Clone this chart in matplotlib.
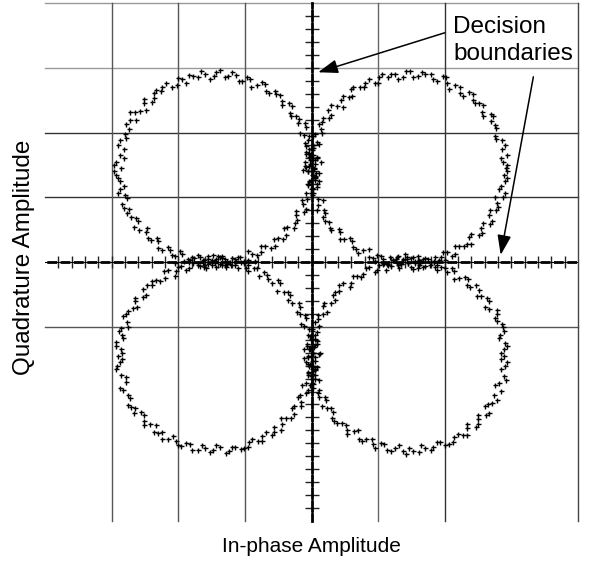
import numpy as np
import matplotlib
matplotlib.use("Agg")
import matplotlib.pyplot as plt
from matplotlib.ticker import FixedLocator

plt.rcParams['font.family'] = ['Liberation Sans', 'DejaVu Sans']
plt.rcParams['lines.scale_dashes'] = False

# Received symbol samples (in-phase, quadrature), one trace per quadrant
ur_x = [2.92, 2.87, 2.94, 2.86, 2.86, 2.76, 2.77, 2.69, 2.69, 2.56, 2.52, 2.43, 2.37, 2.23, 2.16, 2.03,
        1.97, 1.82, 1.71, 1.60, 1.48, 1.38, 1.25, 1.15, 1.02, 0.95, 0.81, 0.73, 0.59, 0.56, 0.44, 0.39,
        0.25, 0.26, 0.16, 0.15, 0.06, 0.09, 0.03, -0.04, 0.03, -0.02, 0.05, 0.00, -0.06, 0.03, -0.01, 0.08,
        0.03, 0.01, 0.10, 0.10, 0.19, 0.18, 0.27, 0.30, 0.43, 0.49, 0.61, 0.67, 0.78, 0.87, 0.99, 1.07,
        1.14, 1.23, 1.29, 1.38, 1.45, 1.50, 1.55, 1.63, 1.70, 1.79, 1.85, 1.95, 2.03, 2.15, 2.21, 2.33,
        2.37, 2.51, 2.55, 2.68, 2.67, 2.77, 2.78, 2.87, 2.82, 2.91, 2.89,
        0.08, -0.10, 0.12, -0.05, 0.06, 0.15, -0.08, 0.04, 1.30, 1.60, 1.75, 1.20, 1.52, 1.88, 1.40, 0.95,
        2.94, 2.84, 2.91, 2.77, 2.76, 2.73, 2.57, 2.58, 2.45, 2.42, 2.27, 2.23, 2.07, 2.02, 1.89, 1.79,
        1.66, 1.52, 1.42, 1.30, 1.19, 1.06, 1.00, 0.87, 0.79, 0.63, 0.61, 0.48, 0.47, 0.29, 0.29, 0.17,
        0.12, 0.16, 0.03, 0.11, 0.01, -0.04, 0.08, -0.04, 0.05, -0.04, 0.09, 0.02, 0.17, 0.08, 0.21, 0.20,
        0.28, 0.41, 0.43, 0.58, 0.63, 0.70, 0.87, 0.92, 1.04, 1.09, 1.28, 1.35, 1.43, 1.61, 1.67, 1.84,
        1.91, 1.98, 2.11, 2.15, 2.29, 2.40, 2.39, 2.56, 2.58, 2.71, 2.68, 2.80, 2.75, 2.91, 2.84, 2.93, 2.94]
ur_y = [1.45, 1.55, 1.66, 1.75, 1.88, 1.95, 2.07, 2.17, 2.29, 2.32, 2.45, 2.50, 2.62, 2.61, 2.73, 2.76,
        2.87, 2.82, 2.90, 2.88, 2.95, 2.86, 2.90, 2.85, 2.86, 2.76, 2.76, 2.70, 2.67, 2.55, 2.50, 2.41,
        2.35, 2.22, 2.16, 2.06, 1.98, 1.86, 1.80, 1.74, 1.65, 1.58, 1.52, 1.45, 1.40, 1.35, 1.27, 1.21,
        1.12, 1.04, 0.98, 0.88, 0.81, 0.69, 0.62, 0.49, 0.46, 0.35, 0.33, 0.20, 0.19, 0.08, 0.11, 0.04,
        -0.03, 0.03, -0.02, 0.05, -0.01, -0.07, 0.02, -0.01, 0.06, -0.00, 0.07, 0.07, 0.15, 0.13, 0.24, 0.28,
        0.39, 0.42, 0.52, 0.59, 0.72, 0.81, 0.91, 1.01, 1.13, 1.25, 1.35,
        1.62, 1.48, 1.38, 1.19, 1.30, 1.55, 1.70, 1.44, 0.10, -0.09, 0.04, -0.06, 0.08, -0.05, 0.12, 0.02,
        1.50, 1.60, 1.81, 1.90, 2.12, 2.25, 2.26, 2.43, 2.45, 2.60, 2.57, 2.71, 2.67, 2.85, 2.80, 2.90,
        2.93, 2.85, 2.95, 2.83, 2.90, 2.91, 2.76, 2.82, 2.70, 2.71, 2.56, 2.57, 2.40, 2.42, 2.27, 2.22,
        2.13, 2.00, 1.94, 1.83, 1.76, 1.69, 1.60, 1.48, 1.33, 1.24, 1.16, 1.07, 0.96, 0.81, 0.76, 0.64,
        0.53, 0.51, 0.35, 0.37, 0.23, 0.14, 0.20, 0.06, 0.10, -0.01, 0.07, -0.03, 0.08, -0.05, 0.05, 0.01,
        0.03, 0.15, 0.10, 0.25, 0.25, 0.28, 0.44, 0.45, 0.60, 0.63, 0.80, 0.85, 1.00, 1.06, 1.18, 1.29, 1.40]

ul_x = [-2.86, -2.93, -2.88, -2.81, -2.88, -2.80, -2.74, -2.72, -2.72, -2.58, -2.52, -2.40, -2.36, -2.26, -2.18, -2.02,
        -1.95, -1.84, -1.70, -1.60, -1.47, -1.37, -1.25, -1.14, -1.04, -0.92, -0.82, -0.70, -0.64, -0.53, -0.45, -0.34,
        -0.32, -0.23, -0.20, -0.09, -0.12, -0.05, -0.08, 0.00, -0.02, 0.06, -0.02, 0.04, -0.05, 0.01, 0.05, -0.05,
        -0.01, -0.09, -0.07, -0.13, -0.12, -0.23, -0.25, -0.37, -0.39, -0.51, -0.55, -0.70, -0.76, -0.89, -0.96, -1.08,
        -1.14, -1.21, -1.30, -1.37, -1.45, -1.50, -1.55, -1.63, -1.71, -1.77, -1.86, -1.94, -2.05, -2.13, -2.25, -2.30,
        -2.41, -2.48, -2.59, -2.61, -2.71, -2.74, -2.84, -2.80, -2.87, -2.87, -2.93,
        -0.10, 0.07, -0.04, 0.11, -0.13, 0.02, -1.55, -1.28, -1.70, -1.15, -1.62, -1.40, -2.05, -0.85,
        -2.96, -2.82, -2.90, -2.78, -2.79, -2.63, -2.65, -2.48, -2.52, -2.36, -2.33, -2.24, -2.09, -2.01, -1.88, -1.78,
        -1.66, -1.52, -1.43, -1.30, -1.19, -1.09, -0.97, -0.91, -0.74, -0.68, -0.55, -0.47, -0.44, -0.30, -0.31, -0.19,
        -0.10, -0.18, -0.04, -0.10, 0.02, -0.08, 0.02, -0.08, 0.05, -0.04, 0.01, -0.01, -0.14, -0.09, -0.23, -0.22,
        -0.26, -0.42, -0.43, -0.56, -0.61, -0.76, -0.82, -0.96, -1.01, -1.11, -1.27, -1.35, -1.43, -1.61, -1.67, -1.83,
        -1.92, -1.97, -2.10, -2.16, -2.31, -2.32, -2.46, -2.47, -2.66, -2.64, -2.77, -2.81, -2.77, -2.90, -2.82, -2.91, -2.96]
ul_y = [1.45, 1.55, 1.65, 1.74, 1.89, 1.97, 2.05, 2.19, 2.31, 2.33, 2.45, 2.47, 2.61, 2.64, 2.76, 2.74,
        2.82, 2.89, 2.85, 2.91, 2.88, 2.96, 2.88, 2.89, 2.80, 2.83, 2.74, 2.75, 2.61, 2.59, 2.49, 2.45,
        2.30, 2.25, 2.14, 2.09, 1.96, 1.88, 1.79, 1.73, 1.65, 1.58, 1.52, 1.45, 1.40, 1.35, 1.27, 1.20,
        1.12, 1.06, 0.97, 0.89, 0.77, 0.72, 0.61, 0.54, 0.42, 0.37, 0.25, 0.25, 0.15, 0.12, 0.03, 0.07,
        0.01, -0.05, 0.04, -0.03, 0.01, -0.05, 0.04, 0.00, -0.02, 0.06, 0.04, 0.12, 0.10, 0.18, 0.18, 0.32,
        0.34, 0.46, 0.49, 0.64, 0.69, 0.82, 0.89, 1.04, 1.12, 1.25, 1.35,
        1.55, 1.38, 1.62, 1.25, 1.42, 1.80, 0.09, -0.08, 0.11, 0.05, -0.07, 0.10, -0.02, 0.02,
        1.50, 1.60, 1.81, 1.91, 2.13, 2.19, 2.32, 2.35, 2.52, 2.54, 2.66, 2.71, 2.70, 2.84, 2.77, 2.88,
        2.95, 2.83, 2.94, 2.85, 2.93, 2.79, 2.85, 2.71, 2.78, 2.64, 2.64, 2.58, 2.42, 2.41, 2.25, 2.21,
        2.14, 1.99, 1.94, 1.84, 1.76, 1.67, 1.61, 1.47, 1.32, 1.25, 1.14, 1.06, 0.95, 0.82, 0.78, 0.65,
        0.52, 0.53, 0.36, 0.35, 0.21, 0.25, 0.11, 0.17, 0.01, 0.07, -0.03, -0.04, 0.05, -0.04, 0.08, 0.03,
        0.01, 0.17, 0.11, 0.23, 0.22, 0.37, 0.37, 0.53, 0.54, 0.68, 0.75, 0.84, 0.99, 1.06, 1.18, 1.30, 1.40]

ll_x = [-2.91, -2.87, -2.94, -2.86, -2.79, -2.83, -2.75, -2.76, -2.65, -2.56, -2.52, -2.43, -2.37, -2.24, -2.16, -2.03,
        -1.96, -1.82, -1.71, -1.60, -1.48, -1.38, -1.24, -1.15, -1.01, -0.94, -0.81, -0.74, -0.60, -0.56, -0.44, -0.38,
        -0.27, -0.26, -0.16, -0.17, -0.06, -0.08, 0.01, -0.06, 0.01, -0.06, 0.06, -0.01, 0.03, -0.04, 0.00, 0.05,
        -0.06, -0.04, -0.11, -0.08, -0.17, -0.18, -0.30, -0.33, -0.42, -0.47, -0.60, -0.67, -0.79, -0.87, -0.98, -1.06,
        -1.15, -1.22, -1.30, -1.37, -1.45, -1.50, -1.55, -1.63, -1.70, -1.78, -1.84, -1.96, -2.03, -2.15, -2.20, -2.34,
        -2.40, -2.53, -2.53, -2.65, -2.68, -2.79, -2.77, -2.86, -2.85, -2.94, -2.86,
        0.09, -0.11, 0.05, -0.07, 0.13, -0.03, -1.35, -1.58, -1.20, -1.80, -0.95, -1.48,
        -2.84, -2.92, -2.78, -2.88, -2.72, -2.71, -2.66, -2.51, -2.51, -2.34, -2.31, -2.25, -2.08, -2.01, -1.89, -1.79,
        -1.64, -1.53, -1.43, -1.29, -1.20, -1.06, -0.96, -0.90, -0.75, -0.69, -0.57, -0.46, -0.46, -0.31, -0.30, -0.16,
        -0.21, -0.09, -0.15, 0.00, -0.06, 0.02, 0.03, -0.05, 0.04, -0.07, -0.01, 0.01, -0.16, -0.10, -0.22, -0.19,
        -0.35, -0.35, -0.52, -0.50, -0.66, -0.71, -0.82, -0.95, -1.01, -1.11, -1.27, -1.34, -1.43, -1.61, -1.67, -1.84,
        -1.88, -2.01, -2.05, -2.21, -2.27, -2.39, -2.47, -2.49, -2.65, -2.62, -2.75, -2.83, -2.76, -2.89, -2.83, -2.94, -2.84]
ll_y = [-1.45, -1.55, -1.66, -1.75, -1.86, -1.98, -2.06, -2.21, -2.26, -2.32, -2.45, -2.50, -2.62, -2.63, -2.73, -2.76,
        -2.84, -2.81, -2.90, -2.87, -2.90, -2.85, -2.92, -2.86, -2.88, -2.78, -2.77, -2.69, -2.67, -2.55, -2.50, -2.41,
        -2.34, -2.22, -2.16, -2.05, -1.98, -1.87, -1.81, -1.72, -1.65, -1.57, -1.53, -1.45, -1.40, -1.35, -1.27, -1.19,
        -1.13, -1.04, -0.99, -0.87, -0.80, -0.69, -0.64, -0.51, -0.46, -0.32, -0.32, -0.20, -0.21, -0.09, -0.09, 0.00,
        -0.05, 0.00, -0.05, 0.07, -0.01, 0.03, -0.03, 0.03, -0.04, -0.02, -0.10, -0.06, -0.14, -0.13, -0.25, -0.28,
        -0.36, -0.41, -0.54, -0.61, -0.71, -0.80, -0.92, -1.02, -1.13, -1.24, -1.35,
        -1.62, -1.48, -1.75, -1.30, -1.40, -1.90, 0.09, -0.10, 0.06, 0.08, -0.04, 0.11,
        -1.50, -1.61, -1.78, -1.94, -2.10, -2.24, -2.33, -2.37, -2.51, -2.52, -2.64, -2.73, -2.68, -2.83, -2.79, -2.91,
        -2.83, -2.93, -2.82, -2.95, -2.85, -2.89, -2.86, -2.74, -2.77, -2.62, -2.62, -2.59, -2.41, -2.41, -2.26, -2.22,
        -2.08, -2.03, -1.90, -1.87, -1.75, -1.68, -1.61, -1.47, -1.32, -1.26, -1.14, -1.06, -0.96, -0.82, -0.77, -0.63,
        -0.59, -0.46, -0.45, -0.28, -0.27, -0.16, -0.10, -0.14, -0.02, -0.10, 0.01, 0.06, -0.07, 0.03, -0.06, 0.00,
        -0.13, -0.08, -0.22, -0.14, -0.29, -0.29, -0.36, -0.51, -0.55, -0.69, -0.76, -0.84, -1.00, -1.06, -1.18, -1.29, -1.40]

lr_x = [2.89, 2.94, 2.85, 2.89, 2.82, 2.85, 2.74, 2.71, 2.61, 2.62, 2.50, 2.47, 2.33, 2.27, 2.14, 2.06,
        1.93, 1.83, 1.70, 1.61, 1.47, 1.37, 1.25, 1.14, 1.04, 0.93, 0.82, 0.71, 0.64, 0.53, 0.46, 0.34,
        0.32, 0.23, 0.22, 0.11, 0.11, 0.02, 0.06, 0.01, 0.05, -0.03, 0.01, -0.06, 0.03, -0.02, 0.06, -0.01,
        0.05, 0.01, 0.11, 0.10, 0.18, 0.17, 0.30, 0.32, 0.41, 0.47, 0.60, 0.68, 0.78, 0.87, 0.99, 1.07,
        1.15, 1.22, 1.30, 1.37, 1.45, 1.50, 1.55, 1.63, 1.70, 1.79, 1.85, 1.95, 2.03, 2.14, 2.21, 2.35,
        2.38, 2.51, 2.55, 2.67, 2.67, 2.78, 2.78, 2.88, 2.83, 2.91, 2.89,
        -0.09, 0.12, -0.05, 0.08, -0.12, 0.03, 1.32, 1.60, 1.78, 1.18, 1.52, 2.00,
        2.84, 2.91, 2.92, 2.76, 2.78, 2.65, 2.66, 2.50, 2.50, 2.33, 2.34, 2.20, 2.13, 2.01, 1.88, 1.79,
        1.64, 1.53, 1.42, 1.31, 1.19, 1.09, 0.96, 0.91, 0.76, 0.70, 0.54, 0.52, 0.38, 0.31, 0.30, 0.16,
        0.21, 0.10, 0.02, 0.12, -0.01, 0.06, -0.04, 0.06, -0.02, 0.09, -0.03, 0.08, 0.06, 0.10, 0.23, 0.19,
        0.35, 0.36, 0.42, 0.58, 0.62, 0.75, 0.82, 0.95, 1.02, 1.12, 1.27, 1.35, 1.43, 1.61, 1.67, 1.84,
        1.88, 2.00, 2.11, 2.14, 2.31, 2.34, 2.47, 2.48, 2.63, 2.60, 2.78, 2.75, 2.86, 2.89, 2.82, 2.94, 2.84]
lr_y = [-1.45, -1.55, -1.65, -1.76, -1.87, -1.99, -2.05, -2.18, -2.23, -2.36, -2.43, -2.55, -2.57, -2.67, -2.70, -2.81,
        -2.78, -2.86, -2.87, -2.94, -2.87, -2.92, -2.87, -2.90, -2.80, -2.81, -2.74, -2.74, -2.61, -2.59, -2.48, -2.45,
        -2.31, -2.25, -2.13, -2.08, -1.97, -1.89, -1.80, -1.73, -1.65, -1.58, -1.53, -1.45, -1.40, -1.35, -1.28, -1.19,
        -1.13, -1.04, -0.99, -0.88, -0.80, -0.68, -0.64, -0.51, -0.45, -0.32, -0.32, -0.21, -0.19, -0.08, -0.12, -0.03,
        -0.05, 0.03, -0.04, 0.03, -0.02, 0.06, -0.01, 0.01, -0.06, 0.00, -0.07, -0.07, -0.15, -0.14, -0.24, -0.26,
        -0.39, -0.43, -0.53, -0.60, -0.72, -0.80, -0.91, -1.01, -1.13, -1.25, -1.35,
        -1.55, -1.42, -1.70, -1.22, -1.35, -1.62, -0.09, 0.10, -0.04, 0.07, -0.11, 0.03,
        -1.50, -1.60, -1.82, -1.90, -2.13, -2.20, -2.33, -2.36, -2.50, -2.50, -2.67, -2.65, -2.78, -2.83, -2.78, -2.91,
        -2.83, -2.92, -2.96, -2.82, -2.92, -2.81, -2.87, -2.73, -2.76, -2.60, -2.66, -2.52, -2.49, -2.41, -2.25, -2.22,
        -2.08, -2.03, -1.94, -1.83, -1.76, -1.67, -1.61, -1.47, -1.32, -1.26, -1.14, -1.08, -0.92, -0.82, -0.77, -0.63,
        -0.59, -0.47, -0.35, -0.38, -0.21, -0.23, -0.09, -0.15, -0.04, -0.12, 0.05, -0.03, 0.04, 0.03, -0.07, 0.00,
        -0.13, -0.09, -0.09, -0.26, -0.23, -0.35, -0.35, -0.52, -0.56, -0.70, -0.74, -0.87, -0.96, -1.06, -1.18, -1.29, -1.40]

# Screen graticule lines and decision-boundary tick spacing
h_grid = [(4, '#9a9a9a'), (3, '#9a9a9a'), (2, '#333333'), (1, '#333333'), (-1, '#555555')]
v_grid = [(-3, '#555555'), (-2, '#555555'), (-1, '#555555'), (1, '#666666'), (2, '#333333'), (4, '#444444')]
tick_pos = np.round(np.arange(-3.8, 3.81, 0.2), 2)

fig = plt.figure(figsize=(5.89, 5.63), dpi=100)
W, H = 589, 563
ax = fig.add_axes([45 / W, 1 - 521 / H, (578 - 45) / W, (521 - 3) / H])
ax.set_xlim(-4, 4)
ax.set_ylim(-4, 4)
ax.set_facecolor('white')

for y, c in h_grid:
    ax.axhline(y, color=c, lw=1.0, zorder=1, clip_on=False)
for x, c in v_grid:
    ax.axvline(x, color=c, lw=1.0, zorder=1, clip_on=False)

# Decision boundaries: the I and Q axes through the origin
for name in ('top', 'right'):
    ax.spines[name].set_visible(False)
ax.spines['bottom'].set_position(('data', 0))
ax.spines['left'].set_position(('data', 0))
ax.spines['bottom'].set_linewidth(2.0)
ax.spines['left'].set_linewidth(2.0)
ax.spines['bottom'].set_linestyle((7.3, (5.0, 4.6)))
ax.spines['left'].set_linestyle((2.0, (7.0, 2.3)))
ax.axhline(0, color='black', lw=0.8, zorder=2)
ax.axvline(0, color='black', lw=0.8, zorder=2)
ax.xaxis.set_major_locator(FixedLocator(tick_pos))
ax.yaxis.set_major_locator(FixedLocator(tick_pos))
ax.tick_params(axis='x', direction='inout', length=8.6, width=1.0, color='#222222',
               labelbottom=False, top=False)
ax.tick_params(axis='y', direction='inout', length=10, width=1.0, color='#222222',
               labelleft=False, right=False)

for xs, ys in ((ur_x, ur_y), (ul_x, ul_y), (ll_x, ll_y), (lr_x, lr_y)):
    ax.plot(xs, ys, linestyle='none', marker='+', markersize=3.6,
            markeredgewidth=1.0, color='black', zorder=3)

ax.text(2.13, 3.80, 'Decision\nboundaries', fontsize=17.5, ha='left', va='top',
        linespacing=1.28, color='black', zorder=5)
arrow = dict(arrowstyle='-|>,head_length=1.0,head_width=0.35', color='black',
             lw=1.1, mutation_scale=12, shrinkA=0, shrinkB=0)
ax.annotate('', xy=(0.10, 2.93), xytext=(2.00, 3.54), arrowprops=arrow, zorder=5)
ax.annotate('', xy=(2.84, 0.11), xytext=(3.33, 2.86), arrowprops=arrow, zorder=5)

fig.text(311 / W, 1 - 547 / H, 'In-phase Amplitude', fontsize=15,
         ha='center', va='center')
fig.text(24 / W, 1 - 257 / H, 'Quadrature Amplitude', fontsize=17.5,
         rotation=90, ha='center', va='center')

fig.savefig('out.png', dpi=100, facecolor='white')
